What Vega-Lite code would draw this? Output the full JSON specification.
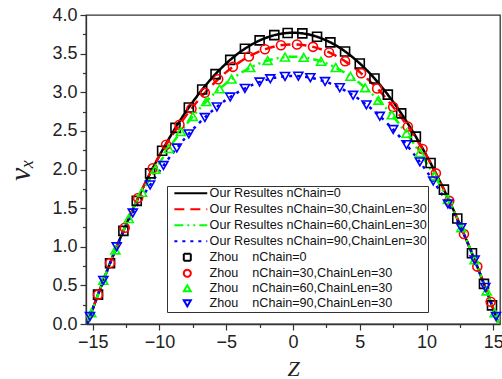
{
  "$schema": "https://vega.github.io/schema/vega-lite/v6.json",
  "width": 414,
  "height": 309,
  "autosize": {"type": "none"},
  "padding": {"left": 86, "top": 15, "right": 2, "bottom": 55},
  "background": "white",
  "config": {
    "view": {"stroke": "#333", "strokeWidth": 1.3},
    "font": "Liberation Sans",
    "axis": {"grid": false, "domainColor": "#333", "domainWidth": 1.3, "tickColor": "#333", "tickWidth": 1.2, "labelFont": "Liberation Sans", "labelFontSize": 18, "labelColor": "#222"},
    "legend": {"labelFont": "Liberation Sans", "labelFontSize": 12.6, "labelColor": "#111", "symbolSize": 49, "symbolStrokeWidth": 2, "rowPadding": 0, "padding": 1, "strokeColor": "#333", "fillColor": "white", "symbolOffset": 13, "labelOffset": 16, "labelLimit": 400, "orient": "none", "legendX": 81, "legendY": 171}
  },
  "datasets": {
    "lines": [
      {"s": "Our Resultes nChain=0", "z": -15.4, "v": 0},
      {"s": "Our Resultes nChain=0", "z": -15, "v": 0.193},
      {"s": "Our Resultes nChain=0", "z": -14, "v": 0.654},
      {"s": "Our Resultes nChain=0", "z": -13, "v": 1.083},
      {"s": "Our Resultes nChain=0", "z": -12, "v": 1.481},
      {"s": "Our Resultes nChain=0", "z": -11, "v": 1.847},
      {"s": "Our Resultes nChain=0", "z": -10, "v": 2.18},
      {"s": "Our Resultes nChain=0", "z": -9, "v": 2.482},
      {"s": "Our Resultes nChain=0", "z": -8, "v": 2.753},
      {"s": "Our Resultes nChain=0", "z": -7, "v": 2.991},
      {"s": "Our Resultes nChain=0", "z": -6, "v": 3.198},
      {"s": "Our Resultes nChain=0", "z": -5, "v": 3.373},
      {"s": "Our Resultes nChain=0", "z": -4, "v": 3.516},
      {"s": "Our Resultes nChain=0", "z": -3, "v": 3.627},
      {"s": "Our Resultes nChain=0", "z": -2, "v": 3.706},
      {"s": "Our Resultes nChain=0", "z": -1, "v": 3.754},
      {"s": "Our Resultes nChain=0", "z": 0, "v": 3.77},
      {"s": "Our Resultes nChain=0", "z": 1, "v": 3.754},
      {"s": "Our Resultes nChain=0", "z": 2, "v": 3.706},
      {"s": "Our Resultes nChain=0", "z": 3, "v": 3.627},
      {"s": "Our Resultes nChain=0", "z": 4, "v": 3.516},
      {"s": "Our Resultes nChain=0", "z": 5, "v": 3.373},
      {"s": "Our Resultes nChain=0", "z": 6, "v": 3.198},
      {"s": "Our Resultes nChain=0", "z": 7, "v": 2.991},
      {"s": "Our Resultes nChain=0", "z": 8, "v": 2.753},
      {"s": "Our Resultes nChain=0", "z": 9, "v": 2.482},
      {"s": "Our Resultes nChain=0", "z": 10, "v": 2.18},
      {"s": "Our Resultes nChain=0", "z": 11, "v": 1.847},
      {"s": "Our Resultes nChain=0", "z": 12, "v": 1.481},
      {"s": "Our Resultes nChain=0", "z": 13, "v": 1.083},
      {"s": "Our Resultes nChain=0", "z": 14, "v": 0.654},
      {"s": "Our Resultes nChain=0", "z": 15, "v": 0.193},
      {"s": "Our Resultes nChain=0", "z": 15.4, "v": 0},

      {"s": "Our Resultes nChain=30,ChainLen=30", "z": -15.4, "v": 0},
      {"s": "Our Resultes nChain=30,ChainLen=30", "z": -15, "v": 0.193},
      {"s": "Our Resultes nChain=30,ChainLen=30", "z": -14, "v": 0.654},
      {"s": "Our Resultes nChain=30,ChainLen=30", "z": -13, "v": 1.083},
      {"s": "Our Resultes nChain=30,ChainLen=30", "z": -12, "v": 1.481},
      {"s": "Our Resultes nChain=30,ChainLen=30", "z": -11, "v": 1.847},
      {"s": "Our Resultes nChain=30,ChainLen=30", "z": -10, "v": 2.18},
      {"s": "Our Resultes nChain=30,ChainLen=30", "z": -9, "v": 2.454},
      {"s": "Our Resultes nChain=30,ChainLen=30", "z": -8, "v": 2.699},
      {"s": "Our Resultes nChain=30,ChainLen=30", "z": -7, "v": 2.915},
      {"s": "Our Resultes nChain=30,ChainLen=30", "z": -6, "v": 3.102},
      {"s": "Our Resultes nChain=30,ChainLen=30", "z": -5, "v": 3.261},
      {"s": "Our Resultes nChain=30,ChainLen=30", "z": -4, "v": 3.39},
      {"s": "Our Resultes nChain=30,ChainLen=30", "z": -3, "v": 3.491},
      {"s": "Our Resultes nChain=30,ChainLen=30", "z": -2, "v": 3.562},
      {"s": "Our Resultes nChain=30,ChainLen=30", "z": -1, "v": 3.606},
      {"s": "Our Resultes nChain=30,ChainLen=30", "z": 0, "v": 3.62},
      {"s": "Our Resultes nChain=30,ChainLen=30", "z": 1, "v": 3.606},
      {"s": "Our Resultes nChain=30,ChainLen=30", "z": 2, "v": 3.562},
      {"s": "Our Resultes nChain=30,ChainLen=30", "z": 3, "v": 3.491},
      {"s": "Our Resultes nChain=30,ChainLen=30", "z": 4, "v": 3.39},
      {"s": "Our Resultes nChain=30,ChainLen=30", "z": 5, "v": 3.261},
      {"s": "Our Resultes nChain=30,ChainLen=30", "z": 6, "v": 3.102},
      {"s": "Our Resultes nChain=30,ChainLen=30", "z": 7, "v": 2.915},
      {"s": "Our Resultes nChain=30,ChainLen=30", "z": 8, "v": 2.699},
      {"s": "Our Resultes nChain=30,ChainLen=30", "z": 9, "v": 2.454},
      {"s": "Our Resultes nChain=30,ChainLen=30", "z": 10, "v": 2.18},
      {"s": "Our Resultes nChain=30,ChainLen=30", "z": 11, "v": 1.847},
      {"s": "Our Resultes nChain=30,ChainLen=30", "z": 12, "v": 1.481},
      {"s": "Our Resultes nChain=30,ChainLen=30", "z": 13, "v": 1.083},
      {"s": "Our Resultes nChain=30,ChainLen=30", "z": 14, "v": 0.654},
      {"s": "Our Resultes nChain=30,ChainLen=30", "z": 15, "v": 0.193},
      {"s": "Our Resultes nChain=30,ChainLen=30", "z": 15.4, "v": 0},

      {"s": "Our Resultes nChain=60,ChainLen=30", "z": -15.4, "v": 0},
      {"s": "Our Resultes nChain=60,ChainLen=30", "z": -15, "v": 0.193},
      {"s": "Our Resultes nChain=60,ChainLen=30", "z": -14, "v": 0.654},
      {"s": "Our Resultes nChain=60,ChainLen=30", "z": -13, "v": 1.083},
      {"s": "Our Resultes nChain=60,ChainLen=30", "z": -12, "v": 1.481},
      {"s": "Our Resultes nChain=60,ChainLen=30", "z": -11, "v": 1.798},
      {"s": "Our Resultes nChain=60,ChainLen=30", "z": -10, "v": 2.085},
      {"s": "Our Resultes nChain=60,ChainLen=30", "z": -9, "v": 2.346},
      {"s": "Our Resultes nChain=60,ChainLen=30", "z": -8, "v": 2.581},
      {"s": "Our Resultes nChain=60,ChainLen=30", "z": -7, "v": 2.787},
      {"s": "Our Resultes nChain=60,ChainLen=30", "z": -6, "v": 2.966},
      {"s": "Our Resultes nChain=60,ChainLen=30", "z": -5, "v": 3.117},
      {"s": "Our Resultes nChain=60,ChainLen=30", "z": -4, "v": 3.24},
      {"s": "Our Resultes nChain=60,ChainLen=30", "z": -3, "v": 3.336},
      {"s": "Our Resultes nChain=60,ChainLen=30", "z": -2, "v": 3.405},
      {"s": "Our Resultes nChain=60,ChainLen=30", "z": -1, "v": 3.446},
      {"s": "Our Resultes nChain=60,ChainLen=30", "z": 0, "v": 3.46},
      {"s": "Our Resultes nChain=60,ChainLen=30", "z": 1, "v": 3.446},
      {"s": "Our Resultes nChain=60,ChainLen=30", "z": 2, "v": 3.405},
      {"s": "Our Resultes nChain=60,ChainLen=30", "z": 3, "v": 3.336},
      {"s": "Our Resultes nChain=60,ChainLen=30", "z": 4, "v": 3.24},
      {"s": "Our Resultes nChain=60,ChainLen=30", "z": 5, "v": 3.117},
      {"s": "Our Resultes nChain=60,ChainLen=30", "z": 6, "v": 2.966},
      {"s": "Our Resultes nChain=60,ChainLen=30", "z": 7, "v": 2.787},
      {"s": "Our Resultes nChain=60,ChainLen=30", "z": 8, "v": 2.581},
      {"s": "Our Resultes nChain=60,ChainLen=30", "z": 9, "v": 2.346},
      {"s": "Our Resultes nChain=60,ChainLen=30", "z": 10, "v": 2.085},
      {"s": "Our Resultes nChain=60,ChainLen=30", "z": 11, "v": 1.798},
      {"s": "Our Resultes nChain=60,ChainLen=30", "z": 12, "v": 1.481},
      {"s": "Our Resultes nChain=60,ChainLen=30", "z": 13, "v": 1.083},
      {"s": "Our Resultes nChain=60,ChainLen=30", "z": 14, "v": 0.654},
      {"s": "Our Resultes nChain=60,ChainLen=30", "z": 15, "v": 0.193},
      {"s": "Our Resultes nChain=60,ChainLen=30", "z": 15.4, "v": 0},

      {"s": "Our Resultes nChain=90,ChainLen=30", "z": -15.4, "v": 0},
      {"s": "Our Resultes nChain=90,ChainLen=30", "z": -15, "v": 0.193},
      {"s": "Our Resultes nChain=90,ChainLen=30", "z": -14, "v": 0.654},
      {"s": "Our Resultes nChain=90,ChainLen=30", "z": -13, "v": 1.083},
      {"s": "Our Resultes nChain=90,ChainLen=30", "z": -12, "v": 1.437},
      {"s": "Our Resultes nChain=90,ChainLen=30", "z": -11, "v": 1.721},
      {"s": "Our Resultes nChain=90,ChainLen=30", "z": -10, "v": 1.978},
      {"s": "Our Resultes nChain=90,ChainLen=30", "z": -9, "v": 2.212},
      {"s": "Our Resultes nChain=90,ChainLen=30", "z": -8, "v": 2.422},
      {"s": "Our Resultes nChain=90,ChainLen=30", "z": -7, "v": 2.607},
      {"s": "Our Resultes nChain=90,ChainLen=30", "z": -6, "v": 2.767},
      {"s": "Our Resultes nChain=90,ChainLen=30", "z": -5, "v": 2.903},
      {"s": "Our Resultes nChain=90,ChainLen=30", "z": -4, "v": 3.013},
      {"s": "Our Resultes nChain=90,ChainLen=30", "z": -3, "v": 3.099},
      {"s": "Our Resultes nChain=90,ChainLen=30", "z": -2, "v": 3.16},
      {"s": "Our Resultes nChain=90,ChainLen=30", "z": -1, "v": 3.198},
      {"s": "Our Resultes nChain=90,ChainLen=30", "z": 0, "v": 3.21},
      {"s": "Our Resultes nChain=90,ChainLen=30", "z": 1, "v": 3.198},
      {"s": "Our Resultes nChain=90,ChainLen=30", "z": 2, "v": 3.16},
      {"s": "Our Resultes nChain=90,ChainLen=30", "z": 3, "v": 3.099},
      {"s": "Our Resultes nChain=90,ChainLen=30", "z": 4, "v": 3.013},
      {"s": "Our Resultes nChain=90,ChainLen=30", "z": 5, "v": 2.903},
      {"s": "Our Resultes nChain=90,ChainLen=30", "z": 6, "v": 2.767},
      {"s": "Our Resultes nChain=90,ChainLen=30", "z": 7, "v": 2.607},
      {"s": "Our Resultes nChain=90,ChainLen=30", "z": 8, "v": 2.422},
      {"s": "Our Resultes nChain=90,ChainLen=30", "z": 9, "v": 2.212},
      {"s": "Our Resultes nChain=90,ChainLen=30", "z": 10, "v": 1.978},
      {"s": "Our Resultes nChain=90,ChainLen=30", "z": 11, "v": 1.721},
      {"s": "Our Resultes nChain=90,ChainLen=30", "z": 12, "v": 1.437},
      {"s": "Our Resultes nChain=90,ChainLen=30", "z": 13, "v": 1.083},
      {"s": "Our Resultes nChain=90,ChainLen=30", "z": 14, "v": 0.654},
      {"s": "Our Resultes nChain=90,ChainLen=30", "z": 15, "v": 0.193},
      {"s": "Our Resultes nChain=90,ChainLen=30", "z": 15.4, "v": 0}
    ],
    "pts": [
      {"s": "Zhou\u00a0\u00a0\u00a0\u00a0nChain=0", "z": -14.6, "v": 0.38},
      {"s": "Zhou\u00a0\u00a0\u00a0\u00a0nChain=0", "z": -13.7, "v": 0.786},
      {"s": "Zhou\u00a0\u00a0\u00a0\u00a0nChain=0", "z": -12.7, "v": 1.206},
      {"s": "Zhou\u00a0\u00a0\u00a0\u00a0nChain=0", "z": -11.7, "v": 1.594},
      {"s": "Zhou\u00a0\u00a0\u00a0\u00a0nChain=0", "z": -10.7, "v": 1.95},
      {"s": "Zhou\u00a0\u00a0\u00a0\u00a0nChain=0", "z": -9.8, "v": 2.243},
      {"s": "Zhou\u00a0\u00a0\u00a0\u00a0nChain=0", "z": -8.8, "v": 2.539},
      {"s": "Zhou\u00a0\u00a0\u00a0\u00a0nChain=0", "z": -7.8, "v": 2.803},
      {"s": "Zhou\u00a0\u00a0\u00a0\u00a0nChain=0", "z": -6.8, "v": 3.035},
      {"s": "Zhou\u00a0\u00a0\u00a0\u00a0nChain=0", "z": -5.8, "v": 3.235},
      {"s": "Zhou\u00a0\u00a0\u00a0\u00a0nChain=0", "z": -4.7, "v": 3.419},
      {"s": "Zhou\u00a0\u00a0\u00a0\u00a0nChain=0", "z": -3.6, "v": 3.564},
      {"s": "Zhou\u00a0\u00a0\u00a0\u00a0nChain=0", "z": -2.5, "v": 3.671},
      {"s": "Zhou\u00a0\u00a0\u00a0\u00a0nChain=0", "z": -1.4, "v": 3.739},
      {"s": "Zhou\u00a0\u00a0\u00a0\u00a0nChain=0", "z": -0.4, "v": 3.767},
      {"s": "Zhou\u00a0\u00a0\u00a0\u00a0nChain=0", "z": 0.7, "v": 3.762},
      {"s": "Zhou\u00a0\u00a0\u00a0\u00a0nChain=0", "z": 1.8, "v": 3.718},
      {"s": "Zhou\u00a0\u00a0\u00a0\u00a0nChain=0", "z": 2.8, "v": 3.645},
      {"s": "Zhou\u00a0\u00a0\u00a0\u00a0nChain=0", "z": 3.9, "v": 3.528},
      {"s": "Zhou\u00a0\u00a0\u00a0\u00a0nChain=0", "z": 5.0, "v": 3.373},
      {"s": "Zhou\u00a0\u00a0\u00a0\u00a0nChain=0", "z": 6.1, "v": 3.178},
      {"s": "Zhou\u00a0\u00a0\u00a0\u00a0nChain=0", "z": 7.1, "v": 2.969},
      {"s": "Zhou\u00a0\u00a0\u00a0\u00a0nChain=0", "z": 8.1, "v": 2.727},
      {"s": "Zhou\u00a0\u00a0\u00a0\u00a0nChain=0", "z": 9.2, "v": 2.425},
      {"s": "Zhou\u00a0\u00a0\u00a0\u00a0nChain=0", "z": 10.3, "v": 2.084},
      {"s": "Zhou\u00a0\u00a0\u00a0\u00a0nChain=0", "z": 11.3, "v": 1.74},
      {"s": "Zhou\u00a0\u00a0\u00a0\u00a0nChain=0", "z": 12.3, "v": 1.365},
      {"s": "Zhou\u00a0\u00a0\u00a0\u00a0nChain=0", "z": 13.4, "v": 0.916},
      {"s": "Zhou\u00a0\u00a0\u00a0\u00a0nChain=0", "z": 14.3, "v": 0.519},
      {"s": "Zhou\u00a0\u00a0\u00a0\u00a0nChain=0", "z": 14.9, "v": 0.241},

      {"s": "Zhou\u00a0\u00a0\u00a0\u00a0nChain=30,ChainLen=30", "z": -14.6, "v": 0.38},
      {"s": "Zhou\u00a0\u00a0\u00a0\u00a0nChain=30,ChainLen=30", "z": -13.7, "v": 0.79},
      {"s": "Zhou\u00a0\u00a0\u00a0\u00a0nChain=30,ChainLen=30", "z": -12.6, "v": 1.246},
      {"s": "Zhou\u00a0\u00a0\u00a0\u00a0nChain=30,ChainLen=30", "z": -11.6, "v": 1.631},
      {"s": "Zhou\u00a0\u00a0\u00a0\u00a0nChain=30,ChainLen=30", "z": -10.5, "v": 2.017},
      {"s": "Zhou\u00a0\u00a0\u00a0\u00a0nChain=30,ChainLen=30", "z": -9.5, "v": 2.321},
      {"s": "Zhou\u00a0\u00a0\u00a0\u00a0nChain=30,ChainLen=30", "z": -8.5, "v": 2.58},
      {"s": "Zhou\u00a0\u00a0\u00a0\u00a0nChain=30,ChainLen=30", "z": -7.6, "v": 2.788},
      {"s": "Zhou\u00a0\u00a0\u00a0\u00a0nChain=30,ChainLen=30", "z": -6.6, "v": 2.992},
      {"s": "Zhou\u00a0\u00a0\u00a0\u00a0nChain=30,ChainLen=30", "z": -5.6, "v": 3.168},
      {"s": "Zhou\u00a0\u00a0\u00a0\u00a0nChain=30,ChainLen=30", "z": -4.5, "v": 3.329},
      {"s": "Zhou\u00a0\u00a0\u00a0\u00a0nChain=30,ChainLen=30", "z": -3.3, "v": 3.463},
      {"s": "Zhou\u00a0\u00a0\u00a0\u00a0nChain=30,ChainLen=30", "z": -2.1, "v": 3.557},
      {"s": "Zhou\u00a0\u00a0\u00a0\u00a0nChain=30,ChainLen=30", "z": -0.9, "v": 3.608},
      {"s": "Zhou\u00a0\u00a0\u00a0\u00a0nChain=30,ChainLen=30", "z": 0.3, "v": 3.619},
      {"s": "Zhou\u00a0\u00a0\u00a0\u00a0nChain=30,ChainLen=30", "z": 1.5, "v": 3.588},
      {"s": "Zhou\u00a0\u00a0\u00a0\u00a0nChain=30,ChainLen=30", "z": 2.7, "v": 3.515},
      {"s": "Zhou\u00a0\u00a0\u00a0\u00a0nChain=30,ChainLen=30", "z": 3.9, "v": 3.401},
      {"s": "Zhou\u00a0\u00a0\u00a0\u00a0nChain=30,ChainLen=30", "z": 5.1, "v": 3.246},
      {"s": "Zhou\u00a0\u00a0\u00a0\u00a0nChain=30,ChainLen=30", "z": 6.3, "v": 3.048},
      {"s": "Zhou\u00a0\u00a0\u00a0\u00a0nChain=30,ChainLen=30", "z": 7.5, "v": 2.81},
      {"s": "Zhou\u00a0\u00a0\u00a0\u00a0nChain=30,ChainLen=30", "z": 8.6, "v": 2.555},
      {"s": "Zhou\u00a0\u00a0\u00a0\u00a0nChain=30,ChainLen=30", "z": 9.7, "v": 2.265},
      {"s": "Zhou\u00a0\u00a0\u00a0\u00a0nChain=30,ChainLen=30", "z": 10.7, "v": 1.95},
      {"s": "Zhou\u00a0\u00a0\u00a0\u00a0nChain=30,ChainLen=30", "z": 11.7, "v": 1.594},
      {"s": "Zhou\u00a0\u00a0\u00a0\u00a0nChain=30,ChainLen=30", "z": 12.8, "v": 1.166},
      {"s": "Zhou\u00a0\u00a0\u00a0\u00a0nChain=30,ChainLen=30", "z": 13.8, "v": 0.743},
      {"s": "Zhou\u00a0\u00a0\u00a0\u00a0nChain=30,ChainLen=30", "z": 14.8, "v": 0.288},

      {"s": "Zhou\u00a0\u00a0\u00a0\u00a0nChain=60,ChainLen=30", "z": -15.1, "v": 0.146},
      {"s": "Zhou\u00a0\u00a0\u00a0\u00a0nChain=60,ChainLen=30", "z": -14.2, "v": 0.565},
      {"s": "Zhou\u00a0\u00a0\u00a0\u00a0nChain=60,ChainLen=30", "z": -13.3, "v": 0.958},
      {"s": "Zhou\u00a0\u00a0\u00a0\u00a0nChain=60,ChainLen=30", "z": -12.3, "v": 1.365},
      {"s": "Zhou\u00a0\u00a0\u00a0\u00a0nChain=60,ChainLen=30", "z": -11.3, "v": 1.705},
      {"s": "Zhou\u00a0\u00a0\u00a0\u00a0nChain=60,ChainLen=30", "z": -10.3, "v": 2.002},
      {"s": "Zhou\u00a0\u00a0\u00a0\u00a0nChain=60,ChainLen=30", "z": -9.3, "v": 2.271},
      {"s": "Zhou\u00a0\u00a0\u00a0\u00a0nChain=60,ChainLen=30", "z": -8.4, "v": 2.49},
      {"s": "Zhou\u00a0\u00a0\u00a0\u00a0nChain=60,ChainLen=30", "z": -7.5, "v": 2.687},
      {"s": "Zhou\u00a0\u00a0\u00a0\u00a0nChain=60,ChainLen=30", "z": -6.5, "v": 2.879},
      {"s": "Zhou\u00a0\u00a0\u00a0\u00a0nChain=60,ChainLen=30", "z": -5.5, "v": 3.044},
      {"s": "Zhou\u00a0\u00a0\u00a0\u00a0nChain=60,ChainLen=30", "z": -4.6, "v": 3.17},
      {"s": "Zhou\u00a0\u00a0\u00a0\u00a0nChain=60,ChainLen=30", "z": -3.2, "v": 3.319},
      {"s": "Zhou\u00a0\u00a0\u00a0\u00a0nChain=60,ChainLen=30", "z": -1.9, "v": 3.411},
      {"s": "Zhou\u00a0\u00a0\u00a0\u00a0nChain=60,ChainLen=30", "z": -0.6, "v": 3.455},
      {"s": "Zhou\u00a0\u00a0\u00a0\u00a0nChain=60,ChainLen=30", "z": 0.8, "v": 3.451},
      {"s": "Zhou\u00a0\u00a0\u00a0\u00a0nChain=60,ChainLen=30", "z": 2.1, "v": 3.4},
      {"s": "Zhou\u00a0\u00a0\u00a0\u00a0nChain=60,ChainLen=30", "z": 3.2, "v": 3.319},
      {"s": "Zhou\u00a0\u00a0\u00a0\u00a0nChain=60,ChainLen=30", "z": 4.3, "v": 3.206},
      {"s": "Zhou\u00a0\u00a0\u00a0\u00a0nChain=60,ChainLen=30", "z": 5.4, "v": 3.059},
      {"s": "Zhou\u00a0\u00a0\u00a0\u00a0nChain=60,ChainLen=30", "z": 6.4, "v": 2.897},
      {"s": "Zhou\u00a0\u00a0\u00a0\u00a0nChain=60,ChainLen=30", "z": 7.4, "v": 2.707},
      {"s": "Zhou\u00a0\u00a0\u00a0\u00a0nChain=60,ChainLen=30", "z": 8.5, "v": 2.468},
      {"s": "Zhou\u00a0\u00a0\u00a0\u00a0nChain=60,ChainLen=30", "z": 9.5, "v": 2.219},
      {"s": "Zhou\u00a0\u00a0\u00a0\u00a0nChain=60,ChainLen=30", "z": 10.6, "v": 1.916},
      {"s": "Zhou\u00a0\u00a0\u00a0\u00a0nChain=60,ChainLen=30", "z": 11.6, "v": 1.611},
      {"s": "Zhou\u00a0\u00a0\u00a0\u00a0nChain=60,ChainLen=30", "z": 12.6, "v": 1.246},
      {"s": "Zhou\u00a0\u00a0\u00a0\u00a0nChain=60,ChainLen=30", "z": 13.6, "v": 0.83},
      {"s": "Zhou\u00a0\u00a0\u00a0\u00a0nChain=60,ChainLen=30", "z": 14.5, "v": 0.428},
      {"s": "Zhou\u00a0\u00a0\u00a0\u00a0nChain=60,ChainLen=30", "z": 15.1, "v": 0.146},

      {"s": "Zhou\u00a0\u00a0\u00a0\u00a0nChain=90,ChainLen=30", "z": -15.2, "v": 0.097},
      {"s": "Zhou\u00a0\u00a0\u00a0\u00a0nChain=90,ChainLen=30", "z": -14.2, "v": 0.565},
      {"s": "Zhou\u00a0\u00a0\u00a0\u00a0nChain=90,ChainLen=30", "z": -13.2, "v": 1.0},
      {"s": "Zhou\u00a0\u00a0\u00a0\u00a0nChain=90,ChainLen=30", "z": -12.0, "v": 1.437},
      {"s": "Zhou\u00a0\u00a0\u00a0\u00a0nChain=90,ChainLen=30", "z": -10.7, "v": 1.8},
      {"s": "Zhou\u00a0\u00a0\u00a0\u00a0nChain=90,ChainLen=30", "z": -9.7, "v": 2.051},
      {"s": "Zhou\u00a0\u00a0\u00a0\u00a0nChain=90,ChainLen=30", "z": -8.7, "v": 2.278},
      {"s": "Zhou\u00a0\u00a0\u00a0\u00a0nChain=90,ChainLen=30", "z": -7.8, "v": 2.461},
      {"s": "Zhou\u00a0\u00a0\u00a0\u00a0nChain=90,ChainLen=30", "z": -6.6, "v": 2.673},
      {"s": "Zhou\u00a0\u00a0\u00a0\u00a0nChain=90,ChainLen=30", "z": -5.7, "v": 2.81},
      {"s": "Zhou\u00a0\u00a0\u00a0\u00a0nChain=90,ChainLen=30", "z": -4.7, "v": 2.938},
      {"s": "Zhou\u00a0\u00a0\u00a0\u00a0nChain=90,ChainLen=30", "z": -3.6, "v": 3.05},
      {"s": "Zhou\u00a0\u00a0\u00a0\u00a0nChain=90,ChainLen=30", "z": -2.5, "v": 3.133},
      {"s": "Zhou\u00a0\u00a0\u00a0\u00a0nChain=90,ChainLen=30", "z": -1.7, "v": 3.175},
      {"s": "Zhou\u00a0\u00a0\u00a0\u00a0nChain=90,ChainLen=30", "z": -0.6, "v": 3.205},
      {"s": "Zhou\u00a0\u00a0\u00a0\u00a0nChain=90,ChainLen=30", "z": 0.4, "v": 3.208},
      {"s": "Zhou\u00a0\u00a0\u00a0\u00a0nChain=90,ChainLen=30", "z": 1.3, "v": 3.189},
      {"s": "Zhou\u00a0\u00a0\u00a0\u00a0nChain=90,ChainLen=30", "z": 2.4, "v": 3.139},
      {"s": "Zhou\u00a0\u00a0\u00a0\u00a0nChain=90,ChainLen=30", "z": 3.5, "v": 3.059},
      {"s": "Zhou\u00a0\u00a0\u00a0\u00a0nChain=90,ChainLen=30", "z": 4.5, "v": 2.961},
      {"s": "Zhou\u00a0\u00a0\u00a0\u00a0nChain=90,ChainLen=30", "z": 5.5, "v": 2.837},
      {"s": "Zhou\u00a0\u00a0\u00a0\u00a0nChain=90,ChainLen=30", "z": 6.5, "v": 2.689},
      {"s": "Zhou\u00a0\u00a0\u00a0\u00a0nChain=90,ChainLen=30", "z": 7.5, "v": 2.518},
      {"s": "Zhou\u00a0\u00a0\u00a0\u00a0nChain=90,ChainLen=30", "z": 8.5, "v": 2.321},
      {"s": "Zhou\u00a0\u00a0\u00a0\u00a0nChain=90,ChainLen=30", "z": 9.5, "v": 2.099},
      {"s": "Zhou\u00a0\u00a0\u00a0\u00a0nChain=90,ChainLen=30", "z": 10.5, "v": 1.852},
      {"s": "Zhou\u00a0\u00a0\u00a0\u00a0nChain=90,ChainLen=30", "z": 11.6, "v": 1.553},
      {"s": "Zhou\u00a0\u00a0\u00a0\u00a0nChain=90,ChainLen=30", "z": 12.6, "v": 1.246},
      {"s": "Zhou\u00a0\u00a0\u00a0\u00a0nChain=90,ChainLen=30", "z": 13.6, "v": 0.83},
      {"s": "Zhou\u00a0\u00a0\u00a0\u00a0nChain=90,ChainLen=30", "z": 14.4, "v": 0.474},
      {"s": "Zhou\u00a0\u00a0\u00a0\u00a0nChain=90,ChainLen=30", "z": 15.2, "v": 0.097}
    ]
  },
  "resolve": {"axis": {"x": "independent", "y": "independent"}},
  "layer": [
    {
      "data": {"name": "lines"},
      "mark": {"type": "line", "strokeWidth": 2.5, "interpolate": "monotone", "clip": true},
      "encoding": {
        "x": {"field": "z", "type": "quantitative", "scale": {"domain": [-15.5, 15.5], "nice": false, "zero": false},
              "axis": {"orient": "bottom", "values": [-15, -10, -5, 0, 5, 10, 15], "tickSize": 6, "labelPadding": 3, "title": "Z", "titleFont": "Liberation Serif", "titleFontStyle": "italic", "titleFontWeight": "normal", "titleFontSize": 22, "titleColor": "#222", "titlePadding": 7}},
        "y": {"field": "v", "type": "quantitative", "scale": {"domain": [0, 4], "nice": false},
              "axis": {"orient": "left", "values": [0, 0.5, 1, 1.5, 2, 2.5, 3, 3.5, 4], "format": ".1f", "tickSize": 6, "labelPadding": 3, "title": "νₓ", "titleFont": "Liberation Serif", "titleFontStyle": "italic", "titleFontWeight": "normal", "titleFontSize": 30, "titleColor": "#222", "titlePadding": 16}},
        "color": {"field": "s", "type": "nominal",
          "scale": {"domain": ["Our Resultes nChain=0", "Our Resultes nChain=30,ChainLen=30", "Our Resultes nChain=60,ChainLen=30", "Our Resultes nChain=90,ChainLen=30", "Zhou\u00a0\u00a0\u00a0\u00a0nChain=0", "Zhou\u00a0\u00a0\u00a0\u00a0nChain=30,ChainLen=30", "Zhou\u00a0\u00a0\u00a0\u00a0nChain=60,ChainLen=30", "Zhou\u00a0\u00a0\u00a0\u00a0nChain=90,ChainLen=30"],
                    "range": ["#000000", "#ff0000", "#00ff00", "#0000ff", "#000000", "#ff0000", "#00ff00", "#0000ff"]},
          "legend": {"title": null, "orient": "none", "legendX": 81, "legendY": 171}},
        "strokeDash": {"field": "s", "type": "nominal",
          "scale": {"domain": ["Our Resultes nChain=0", "Our Resultes nChain=30,ChainLen=30", "Our Resultes nChain=60,ChainLen=30", "Our Resultes nChain=90,ChainLen=30", "Zhou\u00a0\u00a0\u00a0\u00a0nChain=0", "Zhou\u00a0\u00a0\u00a0\u00a0nChain=30,ChainLen=30", "Zhou\u00a0\u00a0\u00a0\u00a0nChain=60,ChainLen=30", "Zhou\u00a0\u00a0\u00a0\u00a0nChain=90,ChainLen=30"],
                    "range": [[1, 0], [10, 6], [9, 4, 2, 4, 2, 4], [3, 5], [1, 0], [1, 0], [1, 0], [1, 0]]},
          "legend": {"title": null, "orient": "none", "legendX": 81, "legendY": 171}}
      }
    },
    {
      "data": {"name": "pts"},
      "mark": {"type": "point", "filled": false, "size": 81, "strokeWidth": 1.6, "opacity": 1},
      "encoding": {
        "x": {"field": "z", "type": "quantitative", "scale": {"domain": [-15.5, 15.5], "nice": false, "zero": false},
              "axis": {"orient": "bottom", "values": [-12.5, -7.5, -2.5, 2.5, 7.5, 12.5], "tickSize": 3.5, "labels": false, "domain": false, "title": null}},
        "y": {"field": "v", "type": "quantitative", "scale": {"domain": [0, 4], "nice": false},
              "axis": {"orient": "left", "values": [0.25, 0.75, 1.25, 1.75, 2.25, 2.75, 3.25, 3.75], "tickSize": 3.5, "labels": false, "domain": false, "title": null}},
        "color": {"field": "s", "type": "nominal", "legend": {"title": null, "orient": "none", "legendX": 81, "legendY": 171}},
        "shape": {"field": "s", "type": "nominal",
          "scale": {"domain": ["Our Resultes nChain=0", "Our Resultes nChain=30,ChainLen=30", "Our Resultes nChain=60,ChainLen=30", "Our Resultes nChain=90,ChainLen=30", "Zhou\u00a0\u00a0\u00a0\u00a0nChain=0", "Zhou\u00a0\u00a0\u00a0\u00a0nChain=30,ChainLen=30", "Zhou\u00a0\u00a0\u00a0\u00a0nChain=60,ChainLen=30", "Zhou\u00a0\u00a0\u00a0\u00a0nChain=90,ChainLen=30"],
                    "range": ["M0,-1M0,1M-3.7,0L5.7,0", "M0,-1M0,1M-3.7,0L5.7,0", "M0,-1M0,1M-3.7,0L5.7,0", "M0,-1M0,1M-3.7,0L5.7,0", "square", "circle", "triangle-up", "triangle-down"]},
          "legend": {"title": null, "orient": "none", "legendX": 81, "legendY": 171}}
      }
    }
  ]
}
